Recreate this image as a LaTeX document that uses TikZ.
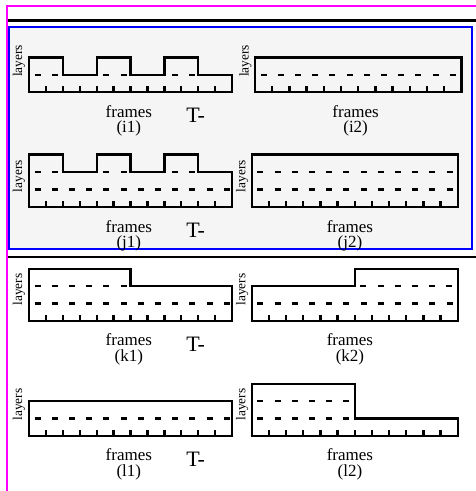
\documentclass[tikz,border=0pt]{standalone}
\usepackage{fontspec}
\setmainfont{Liberation Serif}
\usetikzlibrary{positioning}
\definecolor{edgemag}{RGB}{255,0,255}
\definecolor{edgeblue}{RGB}{0,0,255}
\definecolor{panelbg}{RGB}{245,245,245}

\begin{document}
\begin{tikzpicture}[x=1pt,y=1pt,
    box/.style={line width=2.3pt,line join=miter},
    row/.style={line width=2.3pt,dash pattern=on 6pt off 11.2pt,dash phase=11.6pt},
    tickmark/.style={line width=2.3pt},
    lay/.style={rotate=90,inner sep=0pt,font=\fontsize{13.4}{14}\selectfont},
    frm/.style={align=center,inner sep=0pt,anchor=north,font=\fontsize{17}{15.5}\selectfont},
    tee/.style={inner sep=0pt,anchor=base,font=\fontsize{22}{22}\selectfont}]
    \useasboundingbox (0,0) rectangle (475,491);

    % frames round the panels
    \draw[edgeblue,fill=panelbg,line width=2.2pt] (9,241.7) rectangle (472,464.3);
    \draw[line width=2.3pt] (8,470.5) -- (480,470.5);
    \draw[line width=2.3pt] (8,234.3) -- (480,234.3);
    \draw[edgemag,line width=2.5pt] (7,-5) -- (7,485) -- (480,485);

    % i1
    \begin{scope}[shift={(29,399)},x=16.92pt,y=17.3pt]
        \draw[box] (0,0) -- (0,2) -- (2,2) -- (2,1) -- (4,1) -- (4,2) -- (6,2) -- (6,1) -- (8,1) -- (8,2) -- (10,2) -- (10,1) -- (12,1) -- (12,0) -- cycle;
        \draw[row] (0,1) -- (12,1);
        \foreach \k in {1,...,11} \draw[tickmark] (\k,0) -- (\k,0.35);
        \node[lay] (i1l) at (-0.6,1.8) {layers};
        \node[frm] (i1f) at (5.9,-0.75) {frames\\(i1)};
        \node[tee] (i1t) at (9.85,-1.77) {T-};
    \end{scope}
    % i2
    \begin{scope}[shift={(255,399)},x=17.2pt,y=17.3pt]
        \draw[box] (0,0) rectangle (12,2);
        \draw[row] (0,1) -- (12,1);
        \foreach \k in {1,...,11} \draw[tickmark] (\k,0) -- (\k,0.35);
        \node[lay] (i2l) at (-0.55,1.8) {layers};
        \node[frm] (i2f) at (5.85,-0.75) {frames\\(i2)};
    \end{scope}

    % j1
    \begin{scope}[shift={(29,283.8)},x=16.92pt,y=17.6pt]
        \draw[box] (0,0) -- (0,3) -- (2,3) -- (2,2) -- (4,2) -- (4,3) -- (6,3) -- (6,2) -- (8,2) -- (8,3) -- (10,3) -- (10,2) -- (12,2) -- (12,0) -- cycle;
        \draw[row] (0,1) -- (12,1);
        \draw[row] (0,2) -- (12,2);
        \foreach \k in {1,...,11} \draw[tickmark] (\k,0) -- (\k,0.35);
        \node[lay] (j1l) at (-0.6,1.76) {layers};
        \node[frm] (j1f) at (5.9,-0.74) {frames\\(j1)};
        \node[tee] (j1t) at (9.85,-1.7) {T-};
    \end{scope}
    % j2
    \begin{scope}[shift={(251.7,283.8)},x=17.17pt,y=17.6pt]
        \draw[box] (0,0) rectangle (12,3);
        \draw[row] (0,1) -- (12,1);
        \draw[row] (0,2) -- (12,2);
        \foreach \k in {1,...,11} \draw[tickmark] (\k,0) -- (\k,0.35);
        \node[lay] (j2l) at (-0.55,1.76) {layers};
        \node[frm] (j2f) at (5.72,-0.74) {frames\\(j2)};
    \end{scope}

    % k1
    \begin{scope}[shift={(29,170.3)},x=16.92pt,y=17.3pt]
        \draw[box] (0,0) -- (0,3) -- (6,3) -- (6,2) -- (12,2) -- (12,0) -- cycle;
        \draw[row] (0,1) -- (12,1);
        \draw[row] (0,2) -- (6,2);
        \foreach \k in {1,...,11} \draw[tickmark] (\k,0) -- (\k,0.35);
        \node[lay] (k1l) at (-0.6,1.8) {layers};
        \node[frm] (k1f) at (5.9,-0.75) {frames\\(k1)};
        \node[tee] (k1t) at (9.85,-1.77) {T-};
    \end{scope}
    % k2
    \begin{scope}[shift={(251.7,170.3)},x=17.17pt,y=17.3pt]
        \draw[box] (0,0) -- (0,2) -- (6,2) -- (6,3) -- (12,3) -- (12,0) -- cycle;
        \draw[row] (0,1) -- (12,1);
        \draw[row] (6,2) -- (12,2);
        \foreach \k in {1,...,11} \draw[tickmark] (\k,0) -- (\k,0.35);
        \node[lay] (k2l) at (-0.55,1.8) {layers};
        \node[frm] (k2f) at (5.72,-0.75) {frames\\(k2)};
    \end{scope}

    % l1
    \begin{scope}[shift={(29,55.3)},x=16.92pt,y=17.3pt]
        \draw[box] (0,0) rectangle (12,2);
        \draw[row] (0,1) -- (12,1);
        \foreach \k in {1,...,11} \draw[tickmark] (\k,0) -- (\k,0.35);
        \node[lay] (l1l) at (-0.6,1.8) {layers};
        \node[frm] (l1f) at (5.9,-0.75) {frames\\(l1)};
        \node[tee] (l1t) at (9.85,-1.77) {T-};
    \end{scope}
    % l2
    \begin{scope}[shift={(251.7,55.3)},x=17.17pt,y=17.3pt]
        \draw[box] (0,0) -- (0,3) -- (6,3) -- (6,1) -- (12,1) -- (12,0) -- cycle;
        \draw[row] (0,1) -- (6,1);
        \draw[row] (0,2) -- (6,2);
        \foreach \k in {1,...,11} \draw[tickmark] (\k,0) -- (\k,0.35);
        \node[lay] (l2l) at (-0.55,1.8) {layers};
        \node[frm] (l2f) at (5.72,-0.75) {frames\\(l2)};
    \end{scope}
\end{tikzpicture}
\end{document}
